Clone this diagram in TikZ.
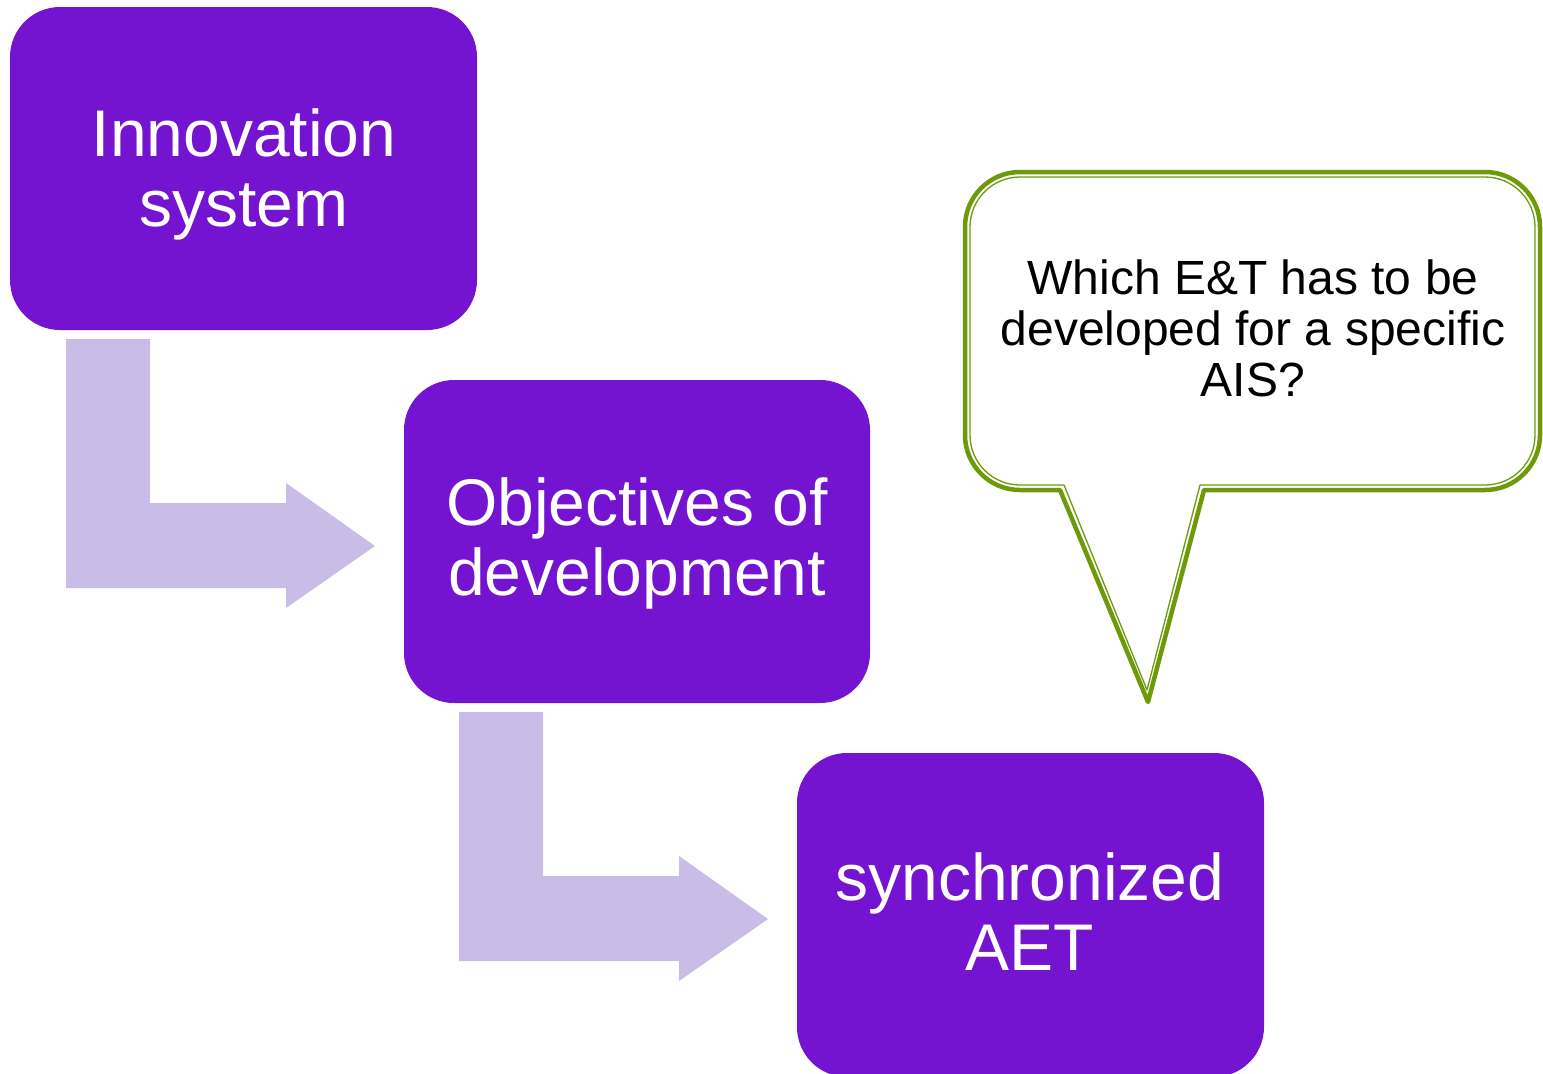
\documentclass[tikz,border=0pt]{standalone}
\usepackage{fontspec}
\setmainfont{Liberation Sans}
\definecolor{boxpurple}{HTML}{7413D0}
\definecolor{arrowlilac}{HTML}{C9BDE7}
\definecolor{calloutgreen}{HTML}{6E9A0A}
\begin{document}
\begin{tikzpicture}[x=1pt,y=-1pt,
  stepbox/.style={fill=boxpurple,rounded corners=50pt},
  steptext/.style={text=white,align=center,inner sep=0pt,anchor=north,font=\fontsize{66}{70}\selectfont},
  bentarrow/.style={fill=arrowlilac},
  calloutline/.style={draw=calloutgreen,line join=round}]
\useasboundingbox (0,0) rectangle (1543,1074);
\clip (0,0) rectangle (1543,1074);
% bent arrows
\fill[bentarrow] (66,339) -- (150,339) -- (150,503) -- (286,503) -- (286,483) -- (375,546) -- (286,608) -- (286,588) -- (66,588) -- cycle;
\fill[bentarrow] (459,712) -- (543,712) -- (543,876) -- (679,876) -- (679,856) -- (768,919) -- (679,981) -- (679,961) -- (459,961) -- cycle;
% boxes
\fill[stepbox] (10,7) rectangle (477,330);
\fill[stepbox] (404,380) rectangle (870,703);
\fill[stepbox] (797,753) rectangle (1264,1077);
\node[steptext] (t1) at (244,108) {Innovation\\system};
\node[steptext] (t2) at (637,477) {Objectives of\\development};
\node[steptext] (t3) at (1030,852) {synchronized\\AET};
% callout
\draw[calloutline,line width=4.5pt,fill=white]
  (1060,490) -- (1148,702) -- (1204,490) -- (1485,490)
  [rounded corners=55pt] -- (1540,490) -- (1540,172) -- (965,172) -- (965,490) [sharp corners] -- (1020,490) -- cycle;
\draw[calloutline,line width=1.3pt]
  (1064,485) -- (1147,690) -- (1200,485) -- (1480,485)
  [rounded corners=50pt] -- (1535,485) -- (1535,177) -- (970,177) -- (970,485) [sharp corners] -- (1020,485) -- cycle;
\node[text=black,align=center,inner sep=0pt,anchor=north,font=\fontsize{48}{51}\selectfont] (q) at (1253,260) {Which E\&T has to be\\developed for a specific\\AIS?};
\end{tikzpicture}
\end{document}
